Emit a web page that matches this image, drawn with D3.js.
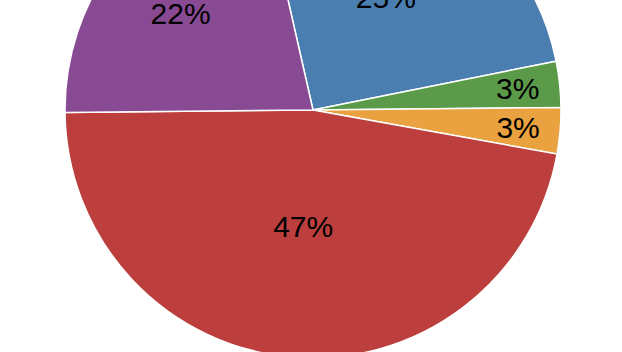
<!DOCTYPE html>
<html>
<head>
<meta charset="utf-8">
<script src="https://cdn.jsdelivr.net/npm/d3@7"></script>
<style>
  html, body { margin: 0; padding: 0; background: #fff; overflow: hidden; }
  svg { display: block; }
  .lbl { font-family: "Liberation Sans", Arial, Helvetica, sans-serif; font-size: 30px; fill: #000; }
</style>
</head>
<body>
<div id="chart"></div>
<script>
// slice data, clockwise from the blue slice
var categories = ["A", "B", "C", "D", "E"];
var values = [25.4, 3.0, 3.0, 47.0, 21.6];
var labels = ["25%", "3%", "3%", "47%", "22%"];

function init(){
    var w = 622;
    var h = 352;
    var cx = 313, cy = 110;
    var radius = 248;
    var colors = ["#4a7db0", "#5a9a48", "#e9a23f", "#bc3f3e", "#884a92"];
    // label distance from centre, as a fraction of the radius
    var labelR = [0.54, 0.83, 0.83, 0.47, 0.66];

    var svg = d3.select("#chart")
                .append("svg")
                .attr("width", w)
                .attr("height", h);

    var g = svg.append("g")
               .attr("transform", `translate(${cx},${cy})`);

    var start = -12.8 * Math.PI / 180;
    var pie = d3.pie()
                .sort(null)
                .value(function(d) { return d; })
                .startAngle(start)
                .endAngle(start + 2 * Math.PI);

    var arcs = pie(values);

    var arc = d3.arc()
                .innerRadius(0)
                .outerRadius(radius);

    g.selectAll("path")
        .data(arcs)
        .enter()
        .append("path")
        .attr("d", arc)
        .attr("fill", function(d, i) { return colors[i]; })
        .attr("stroke", "#fff")
        .attr("stroke-width", 1.5);

    g.selectAll("text")
        .data(arcs)
        .enter()
        .append("text")
        .attr("class", "lbl")
        .attr("transform", function(d, i) {
            var r = radius * labelR[i];
            var la = d3.arc().innerRadius(r).outerRadius(r);
            var p = la.centroid(d);
            // the purple label sits a little lower and left of its mid-angle
            if (i === 4) { p[0] -= 4; p[1] += 5; }
            return `translate(${p})`;
        })
        .attr("text-anchor", "middle")
        .attr("dy", "0.36em")
        .text(function(d, i) { return labels[i]; });
}
window.onload = init;
</script>
</body>
</html>
